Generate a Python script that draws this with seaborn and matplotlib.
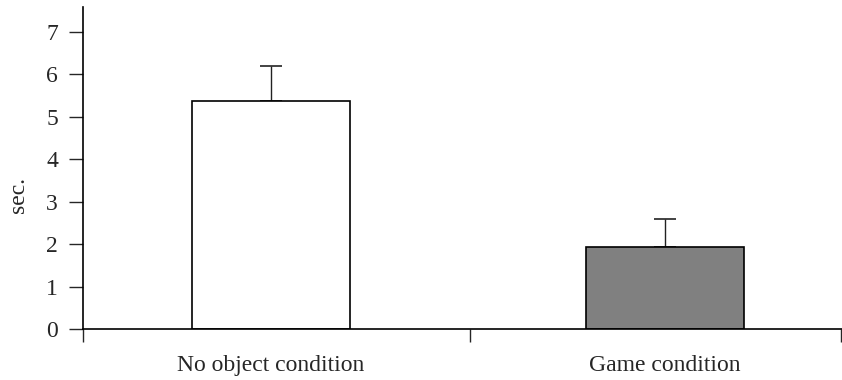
import matplotlib
matplotlib.use("Agg")
import matplotlib.pyplot as plt
import seaborn as sns
import pandas as pd
import numpy as np

conditions = ["No object condition", "Game condition"]
means = [5.37, 1.94]
errors = [0.84, 0.66]
bar_colors = ["#ffffff", "#808080"]

sns.set_style("ticks")
plt.rcParams['font.family'] = ['Liberation Serif', 'DejaVu Serif']

df = pd.DataFrame({"condition": conditions, "sec": means})

fig = plt.figure(figsize=(8.42, 3.8), dpi=100)
ax = fig.add_axes([83/842, 1-329/380, (842-83)/842, (329-7)/380])

sns.barplot(data=df, x="condition", y="sec", hue="condition", palette=bar_colors,
            edgecolor="black", linewidth=1.2, width=0.4, legend=False, ax=ax, errorbar=None)

xpos = np.arange(len(conditions))
ax.errorbar(xpos, means, yerr=[np.zeros(len(errors)), errors], fmt="none",
            ecolor="#222222", elinewidth=1.0, capsize=8, capthick=1.2, zorder=0)

ax.set_xlim(-0.477, 1.449)
ax.set_ylim(0, 7.59)
ax.set_yticks(range(0, 8))
ax.set_xlabel("")
ax.set_ylabel("sec.", fontsize=17)
ax.yaxis.set_label_coords(-0.071, 0.415)
ax.tick_params(axis="y", labelsize=17, length=10, width=1, direction="out", pad=8)
ax.set_xticks(xpos)
ax.set_xticklabels(conditions, fontsize=17)
ax.tick_params(axis="x", length=0, pad=19)
ax.set_xticks([-0.477, 0.505, 1.446], minor=True)
ax.tick_params(axis="x", which="minor", length=9, width=1, direction="out")
for s in ["top", "right"]:
    ax.spines[s].set_visible(False)
for s in ["left", "bottom"]:
    ax.spines[s].set_linewidth(1.2)
    ax.spines[s].set_color("black")

fig.savefig("out.png", dpi=100)
